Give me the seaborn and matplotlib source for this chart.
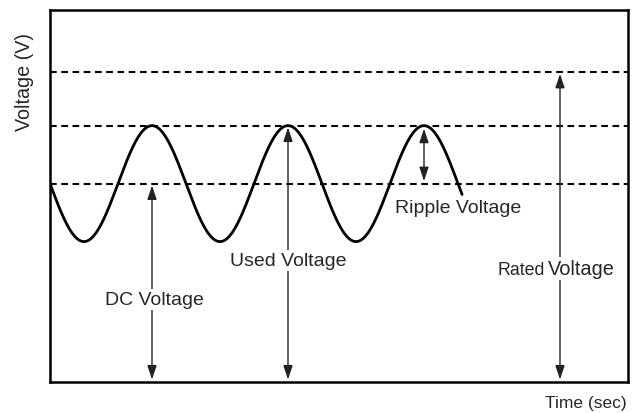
import matplotlib
matplotlib.use("Agg")
import matplotlib.pyplot as plt
import numpy as np
import seaborn as sns

# Diagram levels (volts, arbitrary scale)
DC_LEVEL = 6.4
RIPPLE_AMPLITUDE = 1.87
RATED_LEVEL = 10.0
RIPPLE_PERIOD = 2.0      # sec
WAVE_END = 6.06          # sec
DASHED_LEVELS = [DC_LEVEL, DC_LEVEL + RIPPLE_AMPLITUDE, RATED_LEVEL]

# Arrows: x position, lower end, upper end
ARROW_X = [1.5, 3.5, 5.5, 7.5]
ARROW_LOW = [0.08, 0.08, DC_LEVEL + 0.08, 0.08]
ARROW_HIGH = [DC_LEVEL - 0.06, DC_LEVEL + RIPPLE_AMPLITUDE - 0.06,
              DC_LEVEL + RIPPLE_AMPLITUDE - 0.1, RATED_LEVEL - 0.06]

# Labels: text, x, baseline y
LABELS = [("DC Voltage", 1.54, 2.52),
          ("Used Voltage", 3.51, 3.77),
          ("Ripple Voltage", 6.0, 5.48)]

sns.set_style("white")
plt.rcParams["font.family"] = ["Liberation Sans", "DejaVu Sans"]

t = np.linspace(0, WAVE_END, 600)
v = DC_LEVEL - RIPPLE_AMPLITUDE * np.sin(2 * np.pi * t / RIPPLE_PERIOD)

fig = plt.figure(figsize=(6.37, 4.14), dpi=100)
ax = fig.add_axes([50 / 637, 31 / 414, 578 / 637, 372 / 414])

for lvl in DASHED_LEVELS:
    ax.axhline(lvl, color="black", lw=1.5, ls=(0, (3.2, 2.2)), zorder=1)

sns.lineplot(x=t, y=v, ax=ax, color="black", lw=2.0, zorder=3)

for x, lo, hi in zip(ARROW_X, ARROW_LOW, ARROW_HIGH):
    ax.annotate("", xy=(x, hi), xytext=(x, lo),
                arrowprops=dict(arrowstyle="<|-|>,head_length=0.6,head_width=0.2",
                                color="#222222", lw=1.0, mutation_scale=14,
                                shrinkA=0, shrinkB=0), zorder=2)

box = dict(facecolor="white", edgecolor="none", pad=1.5)
for text, x, y in LABELS:
    ax.text(x, y, text, ha="center", va="baseline", fontsize=14, bbox=box, zorder=4)
ax.text(7.28, 3.48, "Rated", ha="right", va="baseline", fontsize=12.8, bbox=box, zorder=4)
ax.text(7.32, 3.48, "Voltage", ha="left", va="baseline", fontsize=14.4, bbox=box, zorder=4)

ax.set_xlim(0, 8.5)
ax.set_ylim(0, 12)
ax.set_xticks([])
ax.set_yticks([])
ax.set_xlabel("")
ax.set_ylabel("")
for sp in ax.spines.values():
    sp.set_visible(True)
    sp.set_color("black")
    sp.set_linewidth(1.8)

fig.text(25 / 637, 1 - 82 / 414, "Voltage (V)", rotation=90, ha="center", va="center",
         fontsize=14.2)
fig.text(586 / 637, 1 - 404 / 414, "Time (sec)", ha="center", va="center", fontsize=12.5)

fig.savefig("out.png", dpi=100)
plt.close(fig)
